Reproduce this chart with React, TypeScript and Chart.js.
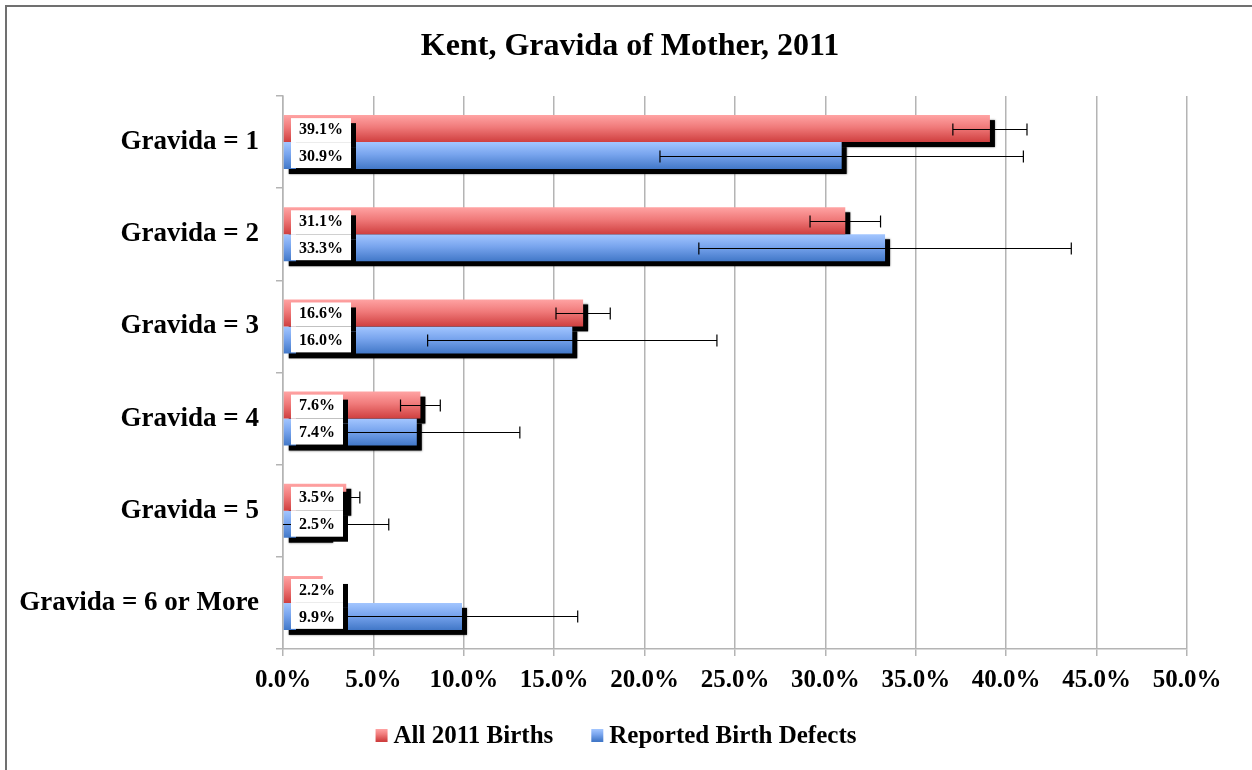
import React, { useEffect, useRef } from 'react';
import { Chart, registerables } from 'chart.js';

Chart.register(...registerables);

// ---------- data ----------
const title = 'Kent, Gravida of Mother, 2011';
const categories = ['Gravida = 1', 'Gravida = 2', 'Gravida = 3', 'Gravida = 4', 'Gravida = 5', 'Gravida = 6 or More'];
const seriesNames = ['All 2011 Births', 'Reported Birth Defects'];
const allBirths = [39.1, 31.1, 16.6, 7.6, 3.5, 2.2];
const allBirthsErr = [2.05, 1.95, 1.5, 1.1, 0.75, 0.5];
const defects = [30.9, 33.3, 16.0, 7.4, 2.5, 9.9];
const defectsErr = [10.05, 10.3, 8.0, 5.7, 3.35, 6.4];
const xMin = 0;
const xMax = 50;
const xStep = 5;

// ---------- style ----------
const FONT = '"Liberation Serif", "Times New Roman", Times, serif';
const RED_STOPS: [number, string][] = [[0, '#ffa3a3'], [0.45, '#f07a7a'], [1, '#cf3f3f']];
const BLUE_STOPS: [number, string][] = [[0, '#a3c6ff'], [0.45, '#79a5ee'], [1, '#4278c8']];
const GRID = '#b4b4b4';
const CAT_PCT = 0.585;

function gradientFill(stops: [number, string][], datasetIndex: number) {
  return (c: any) => {
    const chart = c.chart;
    const ys = chart.scales && chart.scales.y;
    if (!ys || c.type !== 'data' || c.dataIndex === undefined || !ys.height) return stops[1][1];
    const center = ys.getPixelForValue(c.dataIndex);
    const cat = ys.height / categories.length;
    const barH = (cat * CAT_PCT) / 2;
    const top = datasetIndex === 0 ? center - barH : center;
    const g = chart.ctx.createLinearGradient(0, top, 0, top + barH);
    stops.forEach(([o, col]) => g.addColorStop(o, col));
    return g;
  };
}

const decorPlugin = {
  id: 'decor',
  beforeDatasetsDraw(chart: any) {
    const ctx = chart.ctx;
    ctx.save();
    ctx.fillStyle = '#000';
    ctx.shadowColor = 'rgba(0,0,0,0.5)';
    ctx.shadowBlur = 2;
    chart.data.datasets.forEach((_: any, di: number) => {
      chart.getDatasetMeta(di).data.forEach((el: any) => {
        const { x, y, base, height } = el.getProps(['x', 'y', 'base', 'height'], true);
        ctx.fillRect(Math.min(x, base) + 5, y - height / 2 + 5, Math.abs(x - base), height);
      });
    });
    ctx.restore();
  },
  afterDatasetsDraw(chart: any) {
    const ctx = chart.ctx;
    const xs = chart.scales.x;
    const series: [number[], number[]][] = [[allBirths, allBirthsErr], [defects, defectsErr]];
    // error bars
    ctx.save();
    ctx.strokeStyle = '#000';
    ctx.lineWidth = 1.2;
    series.forEach(([vals, errs], di) => {
      chart.getDatasetMeta(di).data.forEach((el: any, i: number) => {
        const loV = vals[i] - errs[i];
        const hiV = vals[i] + errs[i];
        const x1 = xs.getPixelForValue(Math.max(xMin, loV));
        const x2 = xs.getPixelForValue(hiV);
        const y = Math.round(el.y) + 0.5;
        ctx.beginPath();
        ctx.moveTo(x1, y);
        ctx.lineTo(x2, y);
        if (loV >= xMin) {
          ctx.moveTo(x1, y - 6);
          ctx.lineTo(x1, y + 6);
        }
        ctx.moveTo(x2, y - 6);
        ctx.lineTo(x2, y + 6);
        ctx.stroke();
      });
    });
    ctx.restore();
    // data label boxes
    ctx.save();
    ctx.font = `bold 16px ${FONT}`;
    ctx.textBaseline = 'middle';
    ctx.textAlign = 'left';
    const x0 = xs.getPixelForValue(xMin);
    series.forEach(([vals], di) => {
      chart.getDatasetMeta(di).data.forEach((el: any, i: number) => {
        const text = vals[i].toFixed(1) + '%';
        const w = ctx.measureText(text).width + 16;
        const bx = x0 + 8;
        const top = di === 0 ? el.y - el.height / 2 + 3 : el.y - el.height / 2;
        const bottom = di === 0 ? el.y + el.height / 2 : el.y + el.height / 2 - 1;
        ctx.fillStyle = '#000';
        ctx.fillRect(bx + 5, top + 5, w, bottom - top);
        ctx.fillStyle = '#fff';
        ctx.fillRect(bx, top, w, bottom - top);
        ctx.fillStyle = '#000';
        ctx.fillText(text, bx + 8, el.y + 1);
      });
    });
    ctx.restore();
  },
  afterDraw(chart: any) {
    const ctx = chart.ctx;
    ctx.save();
    // outer frame
    ctx.strokeStyle = '#707070';
    ctx.lineWidth = 2;
    ctx.strokeRect(6, 6, 1400, 1000);
    // title
    ctx.fillStyle = '#000';
    ctx.font = `bold 32px ${FONT}`;
    ctx.textAlign = 'center';
    ctx.textBaseline = 'alphabetic';
    ctx.fillText(title, 630, 55);
    // legend
    ctx.font = `bold 25px ${FONT}`;
    ctx.textAlign = 'left';
    const box = 12;
    const gap = 6;
    const between = 38;
    const w1 = ctx.measureText(seriesNames[0]).width;
    const w2 = ctx.measureText(seriesNames[1]).width;
    const total = box + gap + w1 + between + box + gap + w2;
    let lx = 616 - total / 2;
    const baseY = 743;
    [RED_STOPS, BLUE_STOPS].forEach((stops, k) => {
      const g = ctx.createLinearGradient(0, baseY - 14, 0, baseY - 2);
      stops.forEach(([o, col]) => g.addColorStop(o, col));
      ctx.fillStyle = g;
      ctx.fillRect(lx, baseY - 14, box, 13);
      ctx.fillStyle = '#000';
      ctx.fillText(seriesNames[k], lx + box + gap, baseY);
      lx += box + gap + (k === 0 ? w1 : w2) + between;
    });
    ctx.restore();
  },
};

export default function App() {
  const ref = useRef<HTMLCanvasElement>(null);
  useEffect(() => {
    const canvas = ref.current;
    if (!canvas) return;
    const chart = new Chart(canvas, {
      type: 'bar',
      data: {
        labels: categories,
        datasets: [
          {
            label: seriesNames[0],
            data: allBirths,
            backgroundColor: gradientFill(RED_STOPS, 0),
            borderWidth: 0,
            categoryPercentage: CAT_PCT,
            barPercentage: 1,
          },
          {
            label: seriesNames[1],
            data: defects,
            backgroundColor: gradientFill(BLUE_STOPS, 1),
            borderWidth: 0,
            categoryPercentage: CAT_PCT,
            barPercentage: 1,
          },
        ],
      },
      options: {
        indexAxis: 'y',
        responsive: false,
        animation: false,
        layout: { padding: { top: 96, left: 0, right: 65, bottom: 60 } },
        plugins: {
          legend: { display: false },
          title: { display: false },
          tooltip: { enabled: false },
        },
        scales: {
          x: {
            type: 'linear',
            position: 'bottom',
            min: xMin,
            max: xMax,
            ticks: {
              stepSize: xStep,
              autoSkip: false,
              maxRotation: 0,
              padding: 10,
              color: '#000',
              font: { family: FONT, size: 25, weight: 'bold' },
              callback: (v: any) => Number(v).toFixed(1) + '%',
            },
            grid: { color: GRID, lineWidth: 1.5, tickLength: 7, drawTicks: true },
            border: { color: GRID, width: 1.5 },
            afterFit: (s: any) => {
              s.height = 770 - 60 - 649;
            },
          },
          y: {
            type: 'category',
            ticks: {
              padding: 17,
              color: '#000',
              font: { family: FONT, size: 27, weight: 'bold' },
            },
            grid: { drawOnChartArea: false, drawTicks: true, tickLength: 7, color: GRID, lineWidth: 1.5, offset: true },
            border: { color: GRID, width: 1.5 },
            afterFit: (s: any) => {
              s.width = 283;
            },
          },
        },
      },
      plugins: [decorPlugin],
    } as any);
    return () => chart.destroy();
  }, []);
  return (
    <div style={{ position: 'absolute', left: 0, top: 0, width: 1252, height: 770, background: '#fff', overflow: 'hidden' }}>
      <canvas ref={ref} width={1252} height={770} style={{ display: 'block', width: 1252, height: 770 }} />
    </div>
  );
}
